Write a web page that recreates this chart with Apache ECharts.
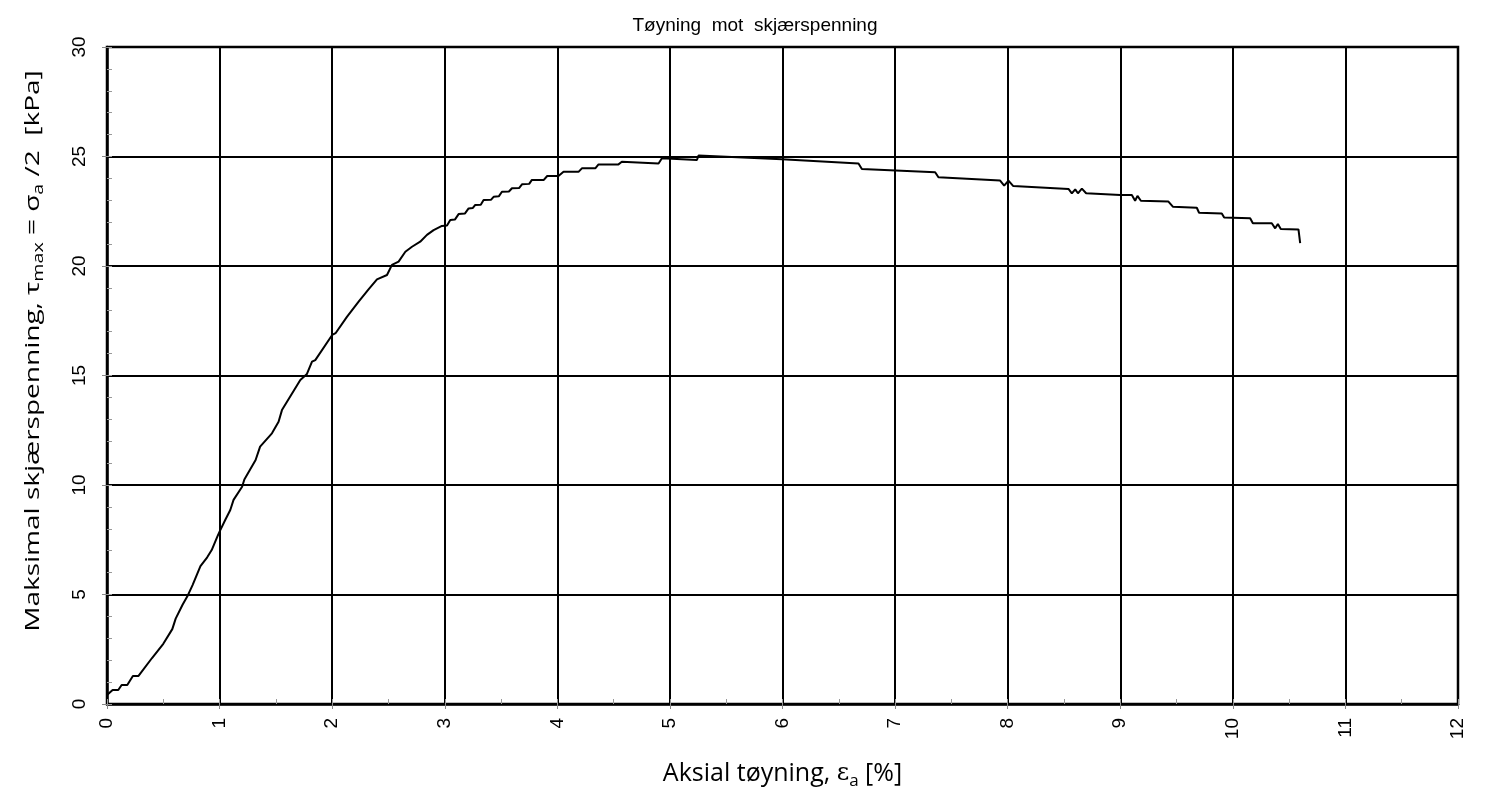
<!DOCTYPE html>
<html>
<head>
<meta charset="utf-8">
<script src="https://cdn.jsdelivr.net/npm/echarts@6/dist/echarts.min.js"></script>
<style>
html,body{margin:0;padding:0;background:#fff;}
#chart{width:1492px;height:796px;}
</style>
</head>
<body>
<div id="chart"></div>
<script>
// Strain [%] vs. max shear stress [kPa]
const strainPct = [
  0, 0.05, 0.10, 0.13, 0.18, 0.23, 0.28, 0.40, 0.50, 0.58, 0.61, 0.67, 0.72, 0.76, 0.83, 0.89, 0.93, 0.98, 1.00,
  1.05, 1.095, 1.124, 1.20, 1.22, 1.32, 1.36, 1.465, 1.524, 1.554, 1.717, 1.776, 1.821, 1.85, 2.00, 2.03,
  2.131, 2.235, 2.323, 2.398, 2.487, 2.531, 2.59, 2.65, 2.709, 2.782, 2.842, 2.901, 2.975,
  3.02, 3.049, 3.09, 3.123, 3.18, 3.212, 3.25, 3.271, 3.32, 3.345, 3.41, 3.434, 3.48, 3.508, 3.57, 3.597,
  3.66, 3.686, 3.75, 3.774, 3.88, 3.91, 4.01, 4.055, 4.188, 4.218, 4.337, 4.366, 4.543, 4.573, 4.899, 4.929,
  5.24, 5.254, 5.995, 6.675, 6.705, 7.356, 7.385, 7.933, 7.969, 8.007, 8.05, 8.54, 8.57, 8.60, 8.624, 8.659,
  8.697, 9.00, 9.103, 9.132, 9.153, 9.183, 9.428, 9.467, 9.68, 9.70, 9.902, 9.923, 10.154, 10.178, 10.346,
  10.376, 10.40, 10.426, 10.583, 10.598
];
const shearKPa = [
  0.41, 0.64, 0.64, 0.87, 0.87, 1.28, 1.28, 2.10, 2.75, 3.42, 3.90, 4.52, 4.98, 5.43, 6.30, 6.70, 7.03, 7.64, 7.87,
  8.40, 8.86, 9.32, 9.92, 10.25, 11.14, 11.75, 12.36, 12.89, 13.42, 14.79, 15.07, 15.63, 15.70, 16.85, 16.93,
  17.68, 18.37, 18.93, 19.39, 19.59, 20.05, 20.20, 20.65, 20.88, 21.11, 21.42, 21.64, 21.83,
  21.85, 22.10, 22.12, 22.37, 22.40, 22.63, 22.65, 22.79, 22.80, 23.01, 23.02, 23.16, 23.18, 23.39, 23.40, 23.55,
  23.56, 23.73, 23.75, 23.93, 23.93, 24.11, 24.11, 24.30, 24.30, 24.46, 24.46, 24.64, 24.64, 24.76, 24.68, 24.92,
  24.84, 25.04, 24.87, 24.68, 24.43, 24.28, 24.05, 23.90, 23.67, 23.90, 23.65, 23.52, 23.32, 23.50, 23.32, 23.53,
  23.32, 23.24, 23.24, 22.98, 23.20, 22.98, 22.94, 22.71, 22.66, 22.43, 22.40, 22.21, 22.18, 21.95, 21.95,
  21.72, 21.92, 21.69, 21.67, 21.04
];
const titleText = 'Tøyning  mot  skjærspenning';
const xTicks = [0,1,2,3,4,5,6,7,8,9,10,11,12];
const yTicks = [0,5,10,15,20,25,30];

const points = strainPct.map((x, i) => [x, shearKPa[i]]);

const chart = echarts.init(document.getElementById('chart'), null, {renderer: 'canvas'});
const labelFont = {fontFamily: 'Liberation Sans', fontSize: 19, color: '#000'};
const nameFont = 'Open Sans';

chart.setOption({
  animation: false,
  backgroundColor: '#fff',
  title: {
    text: titleText,
    left: 750,
    textAlign: 'center',
    top: 11,
    textStyle: {fontFamily: 'Liberation Sans', fontSize: 19, fontWeight: 'normal', color: '#000'}
  },
  graphic: [{
    type: 'text',
    x: 33, y: 351,
    rotation: Math.PI / 2,
    scaleX: 1.4,
    silent: true,
    style: {
      text: '{n|Maksimal skjærspenning, τ}{s|max}{n| = σ}{s|a}{n| /2  [kPa]}',
      align: 'center',
      verticalAlign: 'middle',
      fill: '#000',
      rich: {
        n: {fontFamily: nameFont, fontSize: 20, fill: '#000', lineHeight: 26},
        s: {fontFamily: nameFont, fontSize: 14, fill: '#000', lineHeight: 14, padding: [12, 0, 0, 0]}
      }
    }
  }],
  grid: {
    left: 107, right: 34, top: 47, bottom: 92,
    outerBoundsMode: 'none',
    show: true, borderColor: '#000', borderWidth: 2.5, backgroundColor: 'transparent'
  },
  xAxis: [{
    type: 'value', min: xTicks[0], max: xTicks[xTicks.length - 1], interval: 1,
    axisLine: {show: true, onZero: false, lineStyle: {color: '#000', width: 2.5}},
    axisTick: {show: true, length: 5, lineStyle: {color: '#888', width: 1}},
    axisLabel: Object.assign({rotate: 90, margin: 14}, labelFont),
    splitLine: {show: true, lineStyle: {color: '#000', width: 2}},
    name: '{n|Aksial tøyning, }{g|ε}{s|a}{n| [%]}',
    nameLocation: 'middle', nameGap: 54,
    nameTextStyle: {
      rich: {
        n: {fontFamily: nameFont, fontSize: 25, color: '#000', lineHeight: 32},
        g: {fontFamily: 'DejaVu Serif', fontSize: 24, color: '#000', lineHeight: 32},
        s: {fontFamily: nameFont, fontSize: 17, color: '#000', lineHeight: 17, padding: [15, 0, 0, 0]}
      }
    }
  }, {
    type: 'value', min: xTicks[0], max: xTicks[xTicks.length - 1], interval: 0.5, position: 'bottom',
    axisLine: {show: false}, axisLabel: {show: false}, splitLine: {show: false},
    axisTick: {show: true, inside: true, length: 5, lineStyle: {color: '#999', width: 1}}
  }],
  yAxis: [{
    type: 'value', min: yTicks[0], max: yTicks[yTicks.length - 1], interval: 5,
    axisLine: {show: true, onZero: false, lineStyle: {color: '#000', width: 2.5}},
    axisTick: {show: true, length: 5, lineStyle: {color: '#888', width: 1}},
    axisLabel: Object.assign({rotate: 90, margin: 18}, labelFont),
    splitLine: {show: true, lineStyle: {color: '#000', width: 2}}
  }, {
    type: 'value', min: yTicks[0], max: yTicks[yTicks.length - 1], interval: 1, position: 'left',
    axisLine: {show: false}, axisLabel: {show: false}, splitLine: {show: false},
    axisTick: {show: true, inside: true, length: 5, lineStyle: {color: '#999', width: 1}}
  }],
  series: [{
    type: 'line',
    data: points,
    xAxisIndex: 0, yAxisIndex: 0,
    showSymbol: false, symbol: 'none',
    lineStyle: {color: '#000', width: 2},
    z: 5
  }]
});
</script>
</body>
</html>
